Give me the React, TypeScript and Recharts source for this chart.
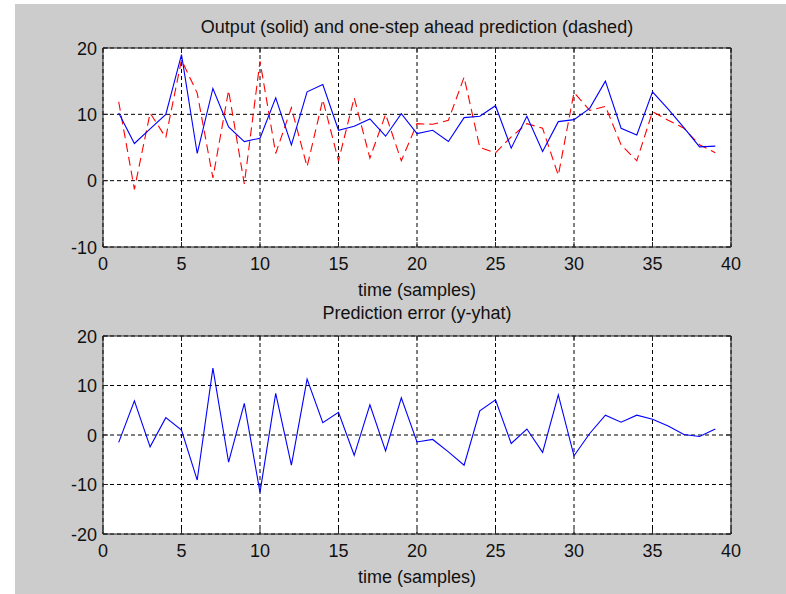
import React from 'react';
import { LineChart, Line, XAxis, YAxis, CartesianGrid, ReferenceLine } from 'recharts';

// sample index (time axis)
const samples = [
  1, 2, 3, 4, 5, 6, 7, 8, 9, 10, 11, 12, 13, 14, 15, 16, 17, 18, 19, 20,
  21, 22, 23, 24, 25, 26, 27, 28, 29, 30, 31, 32, 33, 34, 35, 36, 37, 38, 39,
];

// measured output (solid blue)
const output = [
  10.2, 5.6, 7.8, 10.0, 19.0, 4.1, 13.9, 8.1, 5.9, 6.4, 12.5, 5.4, 13.4, 14.5, 7.6, 8.2, 9.3, 6.7, 10.1, 7.1,
  7.6, 5.9, 9.5, 9.7, 11.3, 4.9, 9.7, 4.4, 8.9, 9.2, 10.9, 15.0, 7.9, 6.9, 13.4, 10.8, 8.0, 5.1, 5.2,
];

// one-step ahead prediction (dashed red)
const prediction = [
  11.9, -1.3, 10.2, 6.5, 18.2, 13.2, 0.4, 13.6, -0.5, 18.0, 4.1, 11.0, 2.1, 12.2, 3.0, 12.5, 3.4, 10.0, 3.0, 8.6,
  8.5, 9.1, 15.6, 5.0, 4.2, 6.6, 8.6, 7.9, 0.8, 13.3, 10.6, 11.2, 5.4, 3.0, 10.4, 9.1, 7.9, 5.4, 4.2,
];

// prediction error y - yhat
const predError = [
  -1.5, 6.9, -2.4, 3.5, 1.0, -9.1, 13.5, -5.5, 6.4, -11.6, 8.4, -6.1, 11.3, 2.5, 4.6, -4.1, 6.1, -3.2, 7.5, -1.4,
  -0.9, -3.4, -6.1, 4.9, 7.1, -1.7, 1.2, -3.5, 8.1, -4.2, 0.3, 4.0, 2.6, 4.0, 3.2, 1.8, 0.1, -0.3, 1.2,
];

const xTicks = [0, 5, 10, 15, 20, 25, 30, 35, 40];
const yTicksTop = [-10, 0, 10, 20];
const yTicksBottom = [-20, -10, 0, 10, 20];

const FONT = '"Liberation Sans", Arial, Helvetica, sans-serif';
const INK = '#222';

function XTick({ x, y, payload, plotH }: any) {
  return (
    <g>
      <line x1={x} y1={y} x2={x} y2={y - 5} stroke={INK} />
      <line x1={x} y1={y - plotH} x2={x} y2={y - plotH + 5} stroke={INK} />
      <text x={x} y={y + 23} textAnchor="middle" fontSize={18} fontFamily={FONT} fill="#111">
        {payload.value}
      </text>
    </g>
  );
}

function YTick({ x, y, payload, plotW }: any) {
  return (
    <g>
      <line x1={x} y1={y} x2={x + 5} y2={y} stroke={INK} />
      <line x1={x + plotW} y1={y} x2={x + plotW - 5} y2={y} stroke={INK} />
      <text x={x - 6} y={y + 6.5} textAnchor="end" fontSize={18} fontFamily={FONT} fill="#111">
        {payload.value}
      </text>
    </g>
  );
}

const textStyle: React.CSSProperties = {
  position: 'absolute',
  left: 103,
  width: 628,
  textAlign: 'center',
  fontFamily: FONT,
  fontSize: 18,
  lineHeight: '18px',
  color: '#111',
  whiteSpace: 'nowrap',
};

export default function App() {
  const topData = samples.map((t, i) => ({ t, y: output[i], yhat: prediction[i] }));
  const bottomData = samples.map((t, i) => ({ t, e: predError[i] }));
  const plotW = 628;

  return (
    <div style={{ position: 'absolute', left: 0, top: 0, width: 786, height: 594, background: '#fff', overflow: 'hidden' }}>
      <div style={{ position: 'absolute', left: 15, top: 4, width: 771, height: 590, background: '#cccccc' }} />

      {/* upper axes: output and prediction */}
      <div style={{ ...textStyle, top: 18 }}>Output (solid) and one-step ahead prediction (dashed)</div>
      <div style={{ position: 'absolute', left: 0, top: 0 }}>
        <LineChart width={786} height={300} data={topData} margin={{ top: 48, right: 55, bottom: 0, left: 43 }}>
          <CartesianGrid stroke="#000" strokeDasharray="4 3" fill="#fff" />
          <XAxis
            dataKey="t"
            type="number"
            domain={[0, 40]}
            ticks={xTicks}
            interval={0}
            height={53}
            tickSize={0}
            tickMargin={0}
            tickLine={false}
            axisLine={{ stroke: INK }}
            tick={(p: any) => <XTick {...p} plotH={199} />}
          />
          <YAxis
            type="number"
            domain={[-10, 20]}
            ticks={yTicksTop}
            interval={0}
            width={60}
            tickSize={0}
            tickMargin={0}
            tickLine={false}
            axisLine={{ stroke: INK }}
            tick={(p: any) => <YTick {...p} plotW={plotW} />}
          />
          <Line type="linear" dataKey="yhat" stroke="#ff0000" strokeWidth={1.1} strokeDasharray="9 5" dot={false} isAnimationActive={false} />
          <Line type="linear" dataKey="y" stroke="#0000ff" strokeWidth={1.1} dot={false} isAnimationActive={false} />
          <ReferenceLine y={20} stroke={INK} />
          <ReferenceLine x={40} stroke={INK} />
        </LineChart>
      </div>
      <div style={{ ...textStyle, top: 281 }}>time (samples)</div>

      {/* lower axes: prediction error */}
      <div style={{ ...textStyle, top: 304 }}>Prediction error (y-yhat)</div>
      <div style={{ position: 'absolute', left: 0, top: 300 }}>
        <LineChart width={786} height={294} data={bottomData} margin={{ top: 36, right: 55, bottom: 0, left: 43 }}>
          <CartesianGrid stroke="#000" strokeDasharray="4 3" fill="#fff" />
          <XAxis
            dataKey="t"
            type="number"
            domain={[0, 40]}
            ticks={xTicks}
            interval={0}
            height={60}
            tickSize={0}
            tickMargin={0}
            tickLine={false}
            axisLine={{ stroke: INK }}
            tick={(p: any) => <XTick {...p} plotH={198} />}
          />
          <YAxis
            type="number"
            domain={[-20, 20]}
            ticks={yTicksBottom}
            interval={0}
            width={60}
            tickSize={0}
            tickMargin={0}
            tickLine={false}
            axisLine={{ stroke: INK }}
            tick={(p: any) => <YTick {...p} plotW={plotW} />}
          />
          <Line type="linear" dataKey="e" stroke="#0000ff" strokeWidth={1.1} dot={false} isAnimationActive={false} />
          <ReferenceLine y={20} stroke={INK} />
          <ReferenceLine x={40} stroke={INK} />
        </LineChart>
      </div>
      <div style={{ ...textStyle, top: 568 }}>time (samples)</div>
    </div>
  );
}
